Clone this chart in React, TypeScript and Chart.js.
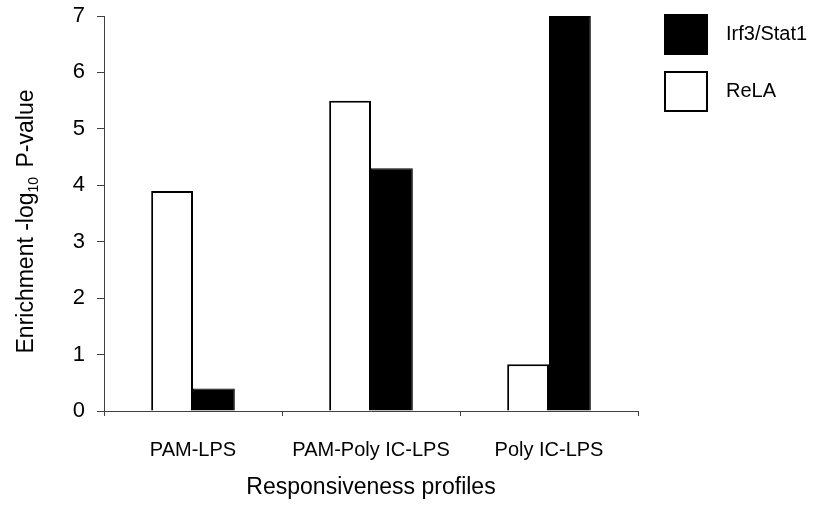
import React, { useEffect, useRef } from "react";
import { Chart, registerables } from "chart.js";

Chart.register(...registerables);

const categories = ["PAM-LPS", "PAM-Poly IC-LPS", "Poly IC-LPS"];
const relaValues = [3.9, 5.5, 0.83];
const irfValues = [0.4, 4.3, 7];
const seriesNames = ["ReLA", "Irf3/Stat1"];
const seriesFill = ["#ffffff", "#000000"];
const yMin = 0;
const yMax = 7;
const xTitle = "Responsiveness profiles";
const yTitleMain = "Enrichment -log";
const yTitleSub = "10";
const yTitleEnd = " P-value";

const FONT = "'Liberation Sans', Arial, Helvetica, sans-serif";

const yTitlePlugin = {
  id: "yTitleSub",
  afterDraw(chart: any) {
    const ctx = chart.ctx;
    const area = chart.chartArea;
    ctx.save();
    const big = `23px ${FONT}`;
    const small = `14px ${FONT}`;
    ctx.font = big;
    const w1 = ctx.measureText(yTitleMain).width;
    const w3 = ctx.measureText(yTitleEnd).width;
    ctx.font = small;
    const w2 = ctx.measureText(yTitleSub).width + 3;
    const total = w1 + w2 + w3;
    const cy = (area.top + area.bottom) / 2 + 8;
    ctx.translate(33, cy);
    ctx.rotate(-Math.PI / 2);
    ctx.fillStyle = "#000";
    ctx.textBaseline = "alphabetic";
    ctx.textAlign = "left";
    let x = -total / 2;
    ctx.font = big;
    ctx.fillText(yTitleMain, x, 0);
    x += w1;
    ctx.font = small;
    ctx.fillText(yTitleSub, x, 5);
    x += w2;
    ctx.font = big;
    ctx.fillText(yTitleEnd, x, 0);
    ctx.restore();
  },
};

const legendPlugin = {
  id: "customLegend",
  afterDraw(chart: any) {
    const ctx = chart.ctx;
    const area = chart.chartArea;
    const items = chart.data.datasets
      .map((ds: any) => ({ label: ds.label, fill: ds.backgroundColor }))
      .reverse();
    ctx.save();
    items.forEach((it: any, i: number) => {
      const left = area.right + 27;
      const top = area.top - 1 + i * 57;
      ctx.fillStyle = it.fill;
      ctx.fillRect(left, top, 42, 39);
      ctx.lineWidth = 2;
      ctx.strokeStyle = "#000";
      ctx.strokeRect(left, top, 42, 39);
      ctx.fillStyle = "#000";
      ctx.font = `20px ${FONT}`;
      ctx.textBaseline = "middle";
      ctx.textAlign = "left";
      ctx.fillText(it.label, left + 61, top + 19.5);
    });
    ctx.restore();
  },
};

export default function App() {
  const canvasRef = useRef<HTMLCanvasElement | null>(null);

  useEffect(() => {
    document.body.style.margin = "0";
    const canvas = canvasRef.current;
    if (!canvas) return;
    const chart = new Chart(canvas, {
      type: "bar",
      data: {
        labels: categories,
        datasets: [
          {
            label: seriesNames[0],
            data: relaValues,
            backgroundColor: seriesFill[0],
            borderColor: "#000",
            borderWidth: 2,
            barPercentage: 1,
            categoryPercentage: 0.47,
          },
          {
            label: seriesNames[1],
            data: irfValues,
            backgroundColor: seriesFill[1],
            borderColor: "#000",
            borderWidth: 1,
            barPercentage: 1,
            categoryPercentage: 0.47,
          },
        ],
      },
      options: {
        animation: false,
        responsive: true,
        maintainAspectRatio: false,
        layout: { padding: { left: 0, top: 16, right: 176, bottom: 0 } },
        plugins: {
          legend: { display: false },
          tooltip: { enabled: false },
        },
        scales: {
          x: {
            grid: {
              display: true,
              drawOnChartArea: false,
              drawTicks: true,
              tickLength: 5,
              color: "#404040",
              offset: true,
            },
            border: { color: "#404040", width: 1 },
            ticks: {
              color: "#000",
              font: { family: FONT, size: 20 },
              padding: 22,
              maxRotation: 0,
              autoSkip: false,
            },
            title: {
              display: true,
              text: xTitle,
              color: "#000",
              font: { family: FONT, size: 23 },
              padding: { top: 0, bottom: 7 },
            },
            afterFit(scale: any) {
              scale.height = 97;
              scale.paddingLeft = 0;
              scale.paddingRight = 0;
            },
          },
          y: {
            min: yMin,
            max: yMax,
            grid: {
              display: true,
              drawOnChartArea: false,
              drawTicks: true,
              tickLength: 7,
              color: "#404040",
            },
            border: { color: "#404040", width: 1 },
            ticks: {
              stepSize: 1,
              color: "#000",
              font: { family: FONT, size: 22 },
              padding: 12,
            },
            afterFit(scale: any) {
              scale.width = 104;
              scale.paddingTop = 0;
              scale.paddingBottom = 0;
            },
          },
        },
      },
      plugins: [yTitlePlugin, legendPlugin],
    });
    return () => chart.destroy();
  }, []);

  return (
    <div style={{ position: "relative", width: "814px", height: "508px" }}>
      <canvas ref={canvasRef} />
    </div>
  );
}
